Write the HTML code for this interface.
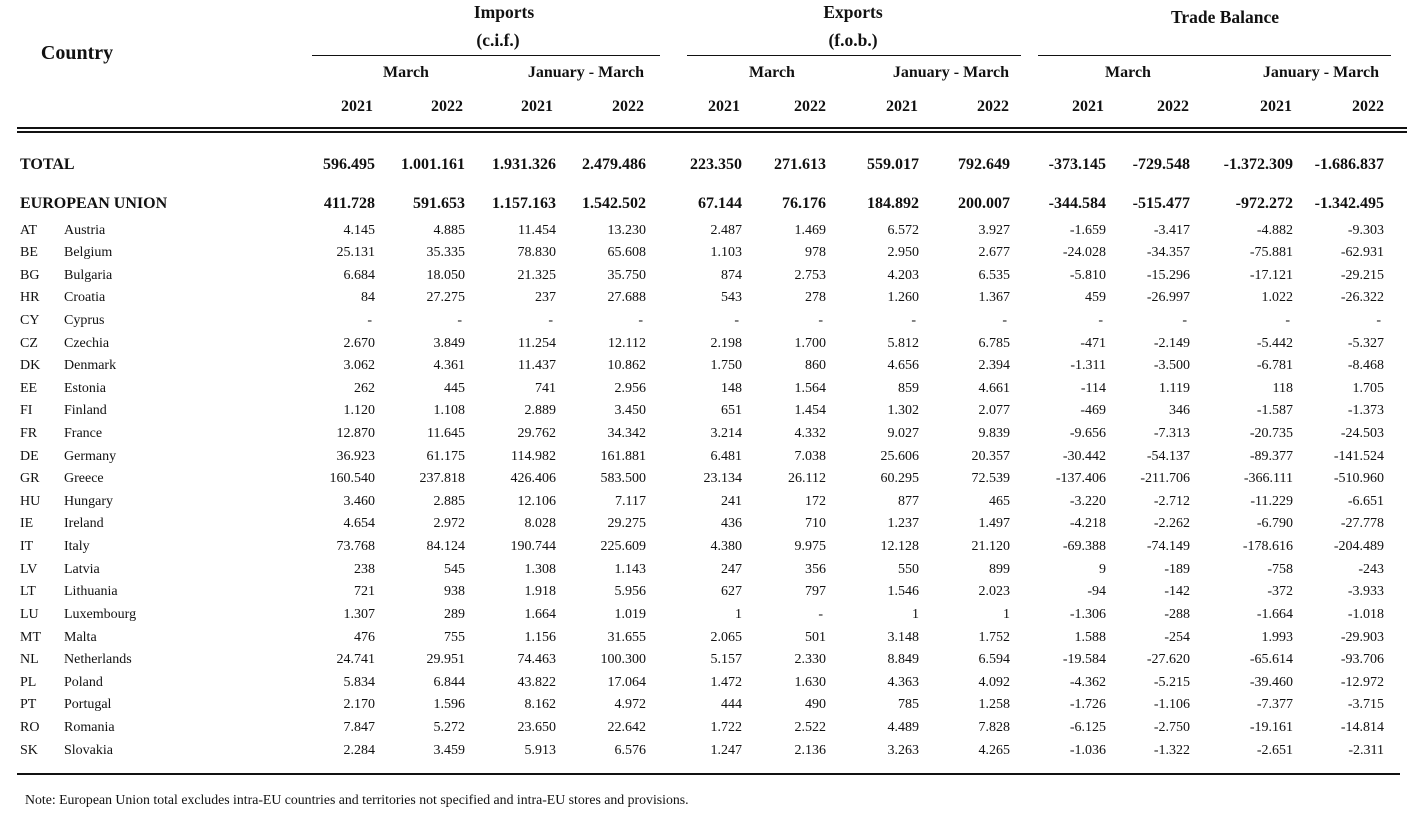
<!DOCTYPE html>
<html><head><meta charset="utf-8"><style>
html,body{margin:0;padding:0;background:#fff}
body{width:1418px;height:820px;position:relative;overflow:hidden;font-family:"Liberation Serif","Times New Roman",serif;color:#111}
.t{position:absolute;line-height:1;white-space:nowrap;font-weight:bold}
.ln{position:absolute;background:#111}
.r{position:absolute;left:0;width:1418px;height:20px;line-height:20px;font-size:14px;white-space:nowrap}
.r.b{font-size:16px;font-weight:bold}
.r i{position:absolute;font-style:normal;top:0}
.r i.cd{left:20px}.r i.nm{left:64px}
.r span{position:absolute;top:0;width:120px;text-align:right}
.r span:nth-of-type(1){left:255px}
.r span:nth-of-type(2){left:345px}
.r span:nth-of-type(3){left:436px}
.r span:nth-of-type(4){left:526px}
.r span:nth-of-type(5){left:622px}
.r span:nth-of-type(6){left:706px}
.r span:nth-of-type(7){left:799px}
.r span:nth-of-type(8){left:890px}
.r span:nth-of-type(9){left:986px}
.r span:nth-of-type(10){left:1070px}
.r span:nth-of-type(11){left:1173px}
.r span:nth-of-type(12){left:1264px}
.r span.d{padding-right:3px;box-sizing:border-box}
.h{position:absolute;font-weight:bold;font-size:16px;line-height:1;white-space:nowrap}
.hr{width:120px;text-align:right}
.hc{width:120px;text-align:center}
.note{position:absolute;left:25px;top:792.5px;font-size:13.8px;line-height:1;white-space:nowrap}
</style></head><body>

<div class="t" style="width:120px;text-align:center;left:17px;top:42.5px;font-size:20px">Country</div>

<div class="t" style="left:444px;width:120px;text-align:center;top:3.5px;font-size:17.5px">Imports</div>
<div class="t" style="left:438px;width:120px;text-align:center;top:32px;font-size:17.5px">(c.i.f.)</div>
<div class="t" style="left:793px;width:120px;text-align:center;top:3.5px;font-size:17.5px">Exports</div>
<div class="t" style="left:793px;width:120px;text-align:center;top:32px;font-size:17.5px">(f.o.b.)</div>
<div class="t" style="left:1125px;width:200px;text-align:center;top:9px;font-size:17.5px">Trade Balance</div>

<div class="ln" style="left:312px;top:55px;width:348px;height:1.3px"></div>
<div class="ln" style="left:687px;top:55px;width:334px;height:1.3px"></div>
<div class="ln" style="left:1038px;top:55px;width:353px;height:1.3px"></div>

<div class="h hc" style="left:346px;top:65px">March</div>
<div class="h hr" style="left:524px;top:65px">January - March</div>
<div class="h hc" style="left:712px;top:65px">March</div>
<div class="h hr" style="left:889px;top:65px">January - March</div>
<div class="h hc" style="left:1068px;top:65px">March</div>
<div class="h hr" style="left:1259px;top:65px">January - March</div>

<div class="h hr" style="left:253px;top:99px">2021</div>
<div class="h hr" style="left:343px;top:99px">2022</div>
<div class="h hr" style="left:433px;top:99px">2021</div>
<div class="h hr" style="left:524px;top:99px">2022</div>
<div class="h hr" style="left:620px;top:99px">2021</div>
<div class="h hr" style="left:706px;top:99px">2022</div>
<div class="h hr" style="left:798px;top:99px">2021</div>
<div class="h hr" style="left:889px;top:99px">2022</div>
<div class="h hr" style="left:984px;top:99px">2021</div>
<div class="h hr" style="left:1069px;top:99px">2022</div>
<div class="h hr" style="left:1172px;top:99px">2021</div>
<div class="h hr" style="left:1264px;top:99px">2022</div>

<div class="ln" style="left:17px;top:127px;width:1390px;height:2px"></div>
<div class="ln" style="left:17px;top:131px;width:1390px;height:1.5px"></div>

<div class="r b" style="top:155px"><i class="cd">TOTAL</i><span>596.495</span><span>1.001.161</span><span>1.931.326</span><span>2.479.486</span><span>223.350</span><span>271.613</span><span>559.017</span><span>792.649</span><span>-373.145</span><span>-729.548</span><span>-1.372.309</span><span>-1.686.837</span></div>
<div class="r b" style="top:194px"><i class="cd">EUROPEAN UNION</i><span>411.728</span><span>591.653</span><span>1.157.163</span><span>1.542.502</span><span>67.144</span><span>76.176</span><span>184.892</span><span>200.007</span><span>-344.584</span><span>-515.477</span><span>-972.272</span><span>-1.342.495</span></div>

<div class="r" style="top:220.5px"><i class="cd">AT</i><i class="nm">Austria</i><span>4.145</span><span>4.885</span><span>11.454</span><span>13.230</span><span>2.487</span><span>1.469</span><span>6.572</span><span>3.927</span><span>-1.659</span><span>-3.417</span><span>-4.882</span><span>-9.303</span></div>
<div class="r" style="top:243.1px"><i class="cd">BE</i><i class="nm">Belgium</i><span>25.131</span><span>35.335</span><span>78.830</span><span>65.608</span><span>1.103</span><span>978</span><span>2.950</span><span>2.677</span><span>-24.028</span><span>-34.357</span><span>-75.881</span><span>-62.931</span></div>
<div class="r" style="top:265.7px"><i class="cd">BG</i><i class="nm">Bulgaria</i><span>6.684</span><span>18.050</span><span>21.325</span><span>35.750</span><span>874</span><span>2.753</span><span>4.203</span><span>6.535</span><span>-5.810</span><span>-15.296</span><span>-17.121</span><span>-29.215</span></div>
<div class="r" style="top:288.3px"><i class="cd">HR</i><i class="nm">Croatia</i><span>84</span><span>27.275</span><span>237</span><span>27.688</span><span>543</span><span>278</span><span>1.260</span><span>1.367</span><span>459</span><span>-26.997</span><span>1.022</span><span>-26.322</span></div>
<div class="r" style="top:310.9px"><i class="cd">CY</i><i class="nm">Cyprus</i><span class="d">-</span><span class="d">-</span><span class="d">-</span><span class="d">-</span><span class="d">-</span><span class="d">-</span><span class="d">-</span><span class="d">-</span><span class="d">-</span><span class="d">-</span><span class="d">-</span><span class="d">-</span></div>
<div class="r" style="top:333.6px"><i class="cd">CZ</i><i class="nm">Czechia</i><span>2.670</span><span>3.849</span><span>11.254</span><span>12.112</span><span>2.198</span><span>1.700</span><span>5.812</span><span>6.785</span><span>-471</span><span>-2.149</span><span>-5.442</span><span>-5.327</span></div>
<div class="r" style="top:356.2px"><i class="cd">DK</i><i class="nm">Denmark</i><span>3.062</span><span>4.361</span><span>11.437</span><span>10.862</span><span>1.750</span><span>860</span><span>4.656</span><span>2.394</span><span>-1.311</span><span>-3.500</span><span>-6.781</span><span>-8.468</span></div>
<div class="r" style="top:378.8px"><i class="cd">EE</i><i class="nm">Estonia</i><span>262</span><span>445</span><span>741</span><span>2.956</span><span>148</span><span>1.564</span><span>859</span><span>4.661</span><span>-114</span><span>1.119</span><span>118</span><span>1.705</span></div>
<div class="r" style="top:401.4px"><i class="cd">FI</i><i class="nm">Finland</i><span>1.120</span><span>1.108</span><span>2.889</span><span>3.450</span><span>651</span><span>1.454</span><span>1.302</span><span>2.077</span><span>-469</span><span>346</span><span>-1.587</span><span>-1.373</span></div>
<div class="r" style="top:424px"><i class="cd">FR</i><i class="nm">France</i><span>12.870</span><span>11.645</span><span>29.762</span><span>34.342</span><span>3.214</span><span>4.332</span><span>9.027</span><span>9.839</span><span>-9.656</span><span>-7.313</span><span>-20.735</span><span>-24.503</span></div>
<div class="r" style="top:446.6px"><i class="cd">DE</i><i class="nm">Germany</i><span>36.923</span><span>61.175</span><span>114.982</span><span>161.881</span><span>6.481</span><span>7.038</span><span>25.606</span><span>20.357</span><span>-30.442</span><span>-54.137</span><span>-89.377</span><span>-141.524</span></div>
<div class="r" style="top:469.2px"><i class="cd">GR</i><i class="nm">Greece</i><span>160.540</span><span>237.818</span><span>426.406</span><span>583.500</span><span>23.134</span><span>26.112</span><span>60.295</span><span>72.539</span><span>-137.406</span><span>-211.706</span><span>-366.111</span><span>-510.960</span></div>
<div class="r" style="top:491.8px"><i class="cd">HU</i><i class="nm">Hungary</i><span>3.460</span><span>2.885</span><span>12.106</span><span>7.117</span><span>241</span><span>172</span><span>877</span><span>465</span><span>-3.220</span><span>-2.712</span><span>-11.229</span><span>-6.651</span></div>
<div class="r" style="top:514.4px"><i class="cd">IE</i><i class="nm">Ireland</i><span>4.654</span><span>2.972</span><span>8.028</span><span>29.275</span><span>436</span><span>710</span><span>1.237</span><span>1.497</span><span>-4.218</span><span>-2.262</span><span>-6.790</span><span>-27.778</span></div>
<div class="r" style="top:537px"><i class="cd">IT</i><i class="nm">Italy</i><span>73.768</span><span>84.124</span><span>190.744</span><span>225.609</span><span>4.380</span><span>9.975</span><span>12.128</span><span>21.120</span><span>-69.388</span><span>-74.149</span><span>-178.616</span><span>-204.489</span></div>
<div class="r" style="top:559.7px"><i class="cd">LV</i><i class="nm">Latvia</i><span>238</span><span>545</span><span>1.308</span><span>1.143</span><span>247</span><span>356</span><span>550</span><span>899</span><span>9</span><span>-189</span><span>-758</span><span>-243</span></div>
<div class="r" style="top:582.3px"><i class="cd">LT</i><i class="nm">Lithuania</i><span>721</span><span>938</span><span>1.918</span><span>5.956</span><span>627</span><span>797</span><span>1.546</span><span>2.023</span><span>-94</span><span>-142</span><span>-372</span><span>-3.933</span></div>
<div class="r" style="top:604.9px"><i class="cd">LU</i><i class="nm">Luxembourg</i><span>1.307</span><span>289</span><span>1.664</span><span>1.019</span><span>1</span><span class="d">-</span><span>1</span><span>1</span><span>-1.306</span><span>-288</span><span>-1.664</span><span>-1.018</span></div>
<div class="r" style="top:627.5px"><i class="cd">MT</i><i class="nm">Malta</i><span>476</span><span>755</span><span>1.156</span><span>31.655</span><span>2.065</span><span>501</span><span>3.148</span><span>1.752</span><span>1.588</span><span>-254</span><span>1.993</span><span>-29.903</span></div>
<div class="r" style="top:650.1px"><i class="cd">NL</i><i class="nm">Netherlands</i><span>24.741</span><span>29.951</span><span>74.463</span><span>100.300</span><span>5.157</span><span>2.330</span><span>8.849</span><span>6.594</span><span>-19.584</span><span>-27.620</span><span>-65.614</span><span>-93.706</span></div>
<div class="r" style="top:672.7px"><i class="cd">PL</i><i class="nm">Poland</i><span>5.834</span><span>6.844</span><span>43.822</span><span>17.064</span><span>1.472</span><span>1.630</span><span>4.363</span><span>4.092</span><span>-4.362</span><span>-5.215</span><span>-39.460</span><span>-12.972</span></div>
<div class="r" style="top:695.3px"><i class="cd">PT</i><i class="nm">Portugal</i><span>2.170</span><span>1.596</span><span>8.162</span><span>4.972</span><span>444</span><span>490</span><span>785</span><span>1.258</span><span>-1.726</span><span>-1.106</span><span>-7.377</span><span>-3.715</span></div>
<div class="r" style="top:717.9px"><i class="cd">RO</i><i class="nm">Romania</i><span>7.847</span><span>5.272</span><span>23.650</span><span>22.642</span><span>1.722</span><span>2.522</span><span>4.489</span><span>7.828</span><span>-6.125</span><span>-2.750</span><span>-19.161</span><span>-14.814</span></div>
<div class="r" style="top:740.5px"><i class="cd">SK</i><i class="nm">Slovakia</i><span>2.284</span><span>3.459</span><span>5.913</span><span>6.576</span><span>1.247</span><span>2.136</span><span>3.263</span><span>4.265</span><span>-1.036</span><span>-1.322</span><span>-2.651</span><span>-2.311</span></div>

<div class="ln" style="left:17px;top:772.5px;width:1383px;height:2.5px"></div>

<div class="note">Note: European Union total excludes intra-EU countries and territories not specified and intra-EU stores and provisions.</div>

</body></html>
